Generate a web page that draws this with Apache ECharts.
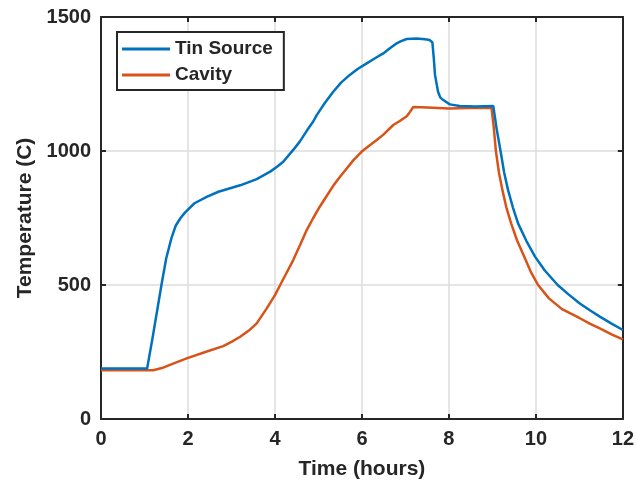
<!DOCTYPE html>
<html>
<head>
<meta charset="utf-8">
<script src="https://cdn.jsdelivr.net/npm/echarts@6/dist/echarts.min.js"></script>
<style>
  html, body { margin: 0; padding: 0; background: #fff; }
  #chart { width: 637px; height: 489px; }
</style>
</head>
<body>
<div id="chart"></div>
<script>
// Furnace temperature log: tin source vs. cavity, [hours, °C]
const tinSource = [
  [0, 188], [0.5, 188], [1.06, 188], [1.19, 307], [1.39, 500], [1.5, 600],
  [1.62, 675], [1.72, 722], [1.83, 750], [1.93, 770], [2.15, 805], [2.43, 829],
  [2.7, 848], [2.97, 861], [3.2, 872], [3.43, 886], [3.58, 895], [3.89, 923],
  [4.04, 940], [4.19, 960], [4.42, 1004], [4.57, 1035], [4.75, 1080], [4.88, 1110],
  [4.96, 1134], [5.15, 1180], [5.34, 1221], [5.52, 1255], [5.72, 1284], [5.9, 1306],
  [6.11, 1327], [6.3, 1346], [6.49, 1364], [6.65, 1384], [6.8, 1402], [6.9, 1410],
  [7.03, 1418], [7.26, 1420], [7.45, 1417], [7.56, 1414], [7.62, 1405], [7.65, 1350],
  [7.68, 1284], [7.75, 1221], [7.8, 1200], [7.87, 1190], [8.02, 1174], [8.25, 1168],
  [8.6, 1166], [9.02, 1168], [9.1, 1080], [9.19, 997], [9.27, 920], [9.36, 854],
  [9.47, 790], [9.59, 730], [9.78, 665], [9.98, 606], [10.2, 555], [10.5, 500],
  [10.75, 465], [11.01, 431], [11.25, 405], [11.47, 382], [11.75, 355], [12, 332]
];
const cavity = [
  [0, 182], [0.6, 182], [1.2, 182], [1.4, 190], [1.6, 203], [1.97, 226],
  [2.4, 250], [2.81, 272], [3.0, 288], [3.2, 307], [3.4, 330], [3.58, 357],
  [3.8, 410], [4.0, 462], [4.12, 500], [4.25, 540], [4.42, 593], [4.58, 650],
  [4.73, 705], [4.88, 750], [5.03, 792], [5.2, 835], [5.34, 870], [5.5, 905],
  [5.65, 935], [5.8, 965], [5.99, 997], [6.15, 1018], [6.34, 1041], [6.5, 1062],
  [6.72, 1097], [6.87, 1112], [7.03, 1130], [7.1, 1145], [7.18, 1164], [7.5, 1162],
  [8.0, 1159], [8.5, 1160], [8.98, 1160], [9.03, 1090], [9.08, 1000], [9.15, 920],
  [9.23, 854], [9.32, 790], [9.43, 730], [9.57, 665], [9.73, 606], [9.88, 550],
  [10.05, 500], [10.3, 450], [10.6, 410], [11.01, 376], [11.25, 355], [11.47, 338],
  [11.75, 315], [12, 297]
];
const seriesNames = ['Tin Source', 'Cavity'];
const xTicks = [0, 2, 4, 6, 8, 10, 12];
const yTicks = [0, 500, 1000, 1500];

const ink = '#262626';
const font = 'Liberation Sans, Arial, sans-serif';
const plain = v => String(v);

const chart = echarts.init(document.getElementById('chart'), null, { renderer: 'canvas' });

const baseX = {
  type: 'value', min: xTicks[0], max: xTicks[xTicks.length - 1], interval: 2,
  axisLine: { show: true, onZero: false, lineStyle: { color: ink, width: 2 } },
  axisTick: { show: true, inside: true, length: 5, lineStyle: { color: ink, width: 2 } }
};
const baseY = {
  type: 'value', min: yTicks[0], max: yTicks[yTicks.length - 1], interval: 500,
  axisLine: { show: true, onZero: false, lineStyle: { color: ink, width: 2 } },
  axisTick: { show: true, inside: true, length: 5, lineStyle: { color: ink, width: 2 } }
};

chart.setOption({
  animation: false,
  backgroundColor: '#fff',
  grid: { left: 101, right: 14, top: 17, bottom: 70, containLabel: false },
  legend: {
    data: seriesNames,
    orient: 'vertical',
    left: 117, top: 32,
    backgroundColor: '#fff',
    borderColor: ink, borderWidth: 2, borderRadius: 0,
    padding: [7, 11, 5, 5],
    icon: 'rect',
    itemWidth: 48, itemHeight: 3, itemGap: 6,
    textStyle: { color: ink, fontFamily: font, fontWeight: 'bold', fontSize: 19, lineHeight: 20 }
  },
  xAxis: [
    Object.assign({}, baseX, {
      position: 'bottom',
      name: 'Time (hours)', nameLocation: 'middle', nameGap: 40,
      nameTextStyle: { color: ink, fontFamily: font, fontWeight: 'bold', fontSize: 21 },
      axisLabel: { color: ink, fontFamily: font, fontWeight: 'bold', fontSize: 20, margin: 10, formatter: plain },
      splitLine: { show: true, lineStyle: { color: '#dcdcdc', width: 1.5 } }
    }),
    Object.assign({}, baseX, {
      position: 'top', axisLabel: { show: false }, splitLine: { show: false }
    })
  ],
  yAxis: [
    Object.assign({}, baseY, {
      position: 'left',
      name: 'Temperature (C)', nameLocation: 'middle', nameGap: 61,
      nameTextStyle: { color: ink, fontFamily: font, fontWeight: 'bold', fontSize: 21 },
      axisLabel: { color: ink, fontFamily: font, fontWeight: 'bold', fontSize: 20, margin: 10, formatter: plain },
      splitLine: { show: true, lineStyle: { color: '#dcdcdc', width: 1.5 } }
    }),
    Object.assign({}, baseY, {
      position: 'right', axisLabel: { show: false }, splitLine: { show: false }
    })
  ],
  series: [
    {
      name: seriesNames[0], type: 'line', data: tinSource, symbol: 'none',
      lineStyle: { color: '#0072BD', width: 2.5 }, itemStyle: { color: '#0072BD' },
      xAxisIndex: 0, yAxisIndex: 0, z: 3
    },
    {
      name: seriesNames[1], type: 'line', data: cavity, symbol: 'none',
      lineStyle: { color: '#D95319', width: 2.5 }, itemStyle: { color: '#D95319' },
      xAxisIndex: 0, yAxisIndex: 0, z: 2
    }
  ]
});
</script>
</body>
</html>
